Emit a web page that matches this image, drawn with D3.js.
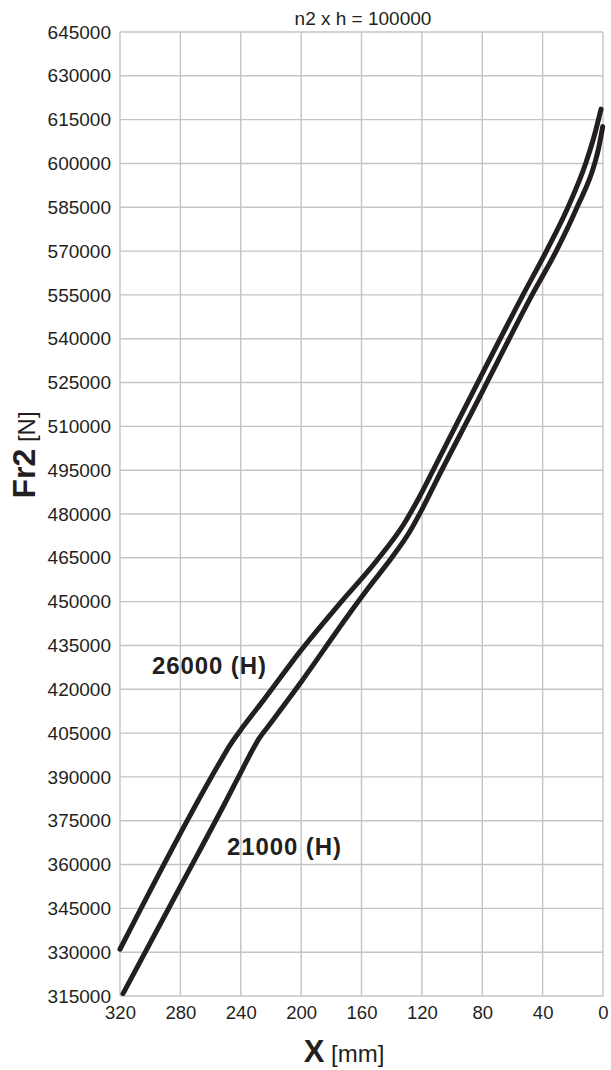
<!DOCTYPE html>
<html>
<head>
<meta charset="utf-8">
<script src="https://cdn.jsdelivr.net/npm/d3@7"></script>
<style>
  html, body { margin: 0; padding: 0; background: #fff; }
  svg { display: block; }
  text { font-family: "Liberation Sans", Arial, sans-serif; fill: #231f20; }
</style>
</head>
<body>
<svg id="chart" width="611" height="1070"></svg>
<script>
// ---- data ----
const title = "n2 x h = 100000";
const xTicks = [320, 280, 240, 200, 160, 120, 80, 40, 0];
const yTicks = [315000, 330000, 345000, 360000, 375000, 390000, 405000, 420000, 435000, 450000, 465000,
                480000, 495000, 510000, 525000, 540000, 555000, 570000, 585000, 600000, 615000, 630000, 645000];

// 26000 (H)
const upperX = [320, 255, 247, 238, 225, 200, 175, 150, 132, 122, 112, 83, 53, 37.5, 23.2, 11.5, 5.5, 1.3];
const upperY = [331000, 394000, 401000, 407500, 416200, 433400, 449000, 464000, 476500, 485500, 495500,
                525000, 555000, 570000, 585000, 600000, 610000, 618600];
// 21000 (H)
const lowerX = [318, 280, 250, 240, 234, 228, 220, 210, 200, 185, 170, 155, 140, 128, 120, 110,
                80, 70, 47, 31, 17.2, 5.5, 3, 0.2];
const lowerY = [315800, 352500, 381500, 391500, 397500, 403000, 408500, 415500, 422500, 433500, 444500, 455000,
                465000, 474000, 481500, 491800, 521800, 532000, 555000, 570000, 585000, 600000, 605000, 612600];

const seriesLabels = ["26000 (H)", "21000 (H)"];

// ---- layout ----
const svg = d3.select("#chart");
const L = 120, R = 603, T = 32, B = 996;

const x = d3.scaleLinear().domain([320, 0]).range([L, R]);
const y = d3.scaleLinear().domain([315000, 645000]).range([B, T]);

// grid
const grid = svg.append("g").attr("stroke", "#c4c4c6").attr("stroke-width", 1.4);
grid.selectAll("line.v").data(xTicks).enter().append("line")
  .attr("x1", d => x(d)).attr("x2", d => x(d)).attr("y1", T).attr("y2", B);
grid.selectAll("line.h").data(yTicks).enter().append("line")
  .attr("x1", L).attr("x2", R).attr("y1", d => y(d)).attr("y2", d => y(d));

// axes
const ax = svg.append("g").attr("transform", `translate(0,${B})`)
  .call(d3.axisBottom(x).tickValues(xTicks).tickSize(0).tickPadding(10).tickFormat(d3.format("d")));
ax.select(".domain").remove();
ax.selectAll("text").attr("font-size", 18.5).style("font-family", "'Liberation Sans', Arial, sans-serif").attr("fill", "#231f20");

const ay = svg.append("g").attr("transform", `translate(${L},0)`)
  .call(d3.axisLeft(y).tickValues(yTicks).tickSize(0).tickPadding(9).tickFormat(d3.format("d")));
ay.select(".domain").remove();
ay.selectAll("text").attr("font-size", 19).style("font-family", "'Liberation Sans', Arial, sans-serif").attr("fill", "#231f20");

// lines
const line = d3.line().x(d => x(d[0])).y(d => y(d[1])).curve(d3.curveMonotoneX);
const upper = upperX.map((v, i) => [v, upperY[i]]);
const lower = lowerX.map((v, i) => [v, lowerY[i]]);
[upper, lower].forEach(s => {
  svg.append("path").datum(s).attr("d", line)
    .attr("fill", "none").attr("stroke", "#231f20").attr("stroke-width", 5)
    .attr("stroke-linecap", "round").attr("stroke-linejoin", "round");
});

// series labels
svg.append("text").attr("x", 152).attr("y", 674).attr("font-size", 24).attr("letter-spacing", 0.9)
  .attr("font-weight", "bold").text(seriesLabels[0]);
svg.append("text").attr("x", 227).attr("y", 855).attr("font-size", 24).attr("letter-spacing", 0.9)
  .attr("font-weight", "bold").text(seriesLabels[1]);

// title
svg.append("text").attr("x", 363).attr("y", 25).attr("text-anchor", "middle").attr("font-size", 19).text(title);

// y axis title
const yt = svg.append("text").attr("transform", "translate(35,455) rotate(-90)").attr("text-anchor", "middle");
yt.append("tspan").attr("font-size", 32).attr("font-weight", "bold").text("Fr2");
yt.append("tspan").attr("font-size", 24).text(" [N]");

// x axis title
const xt = svg.append("text").attr("x", 344).attr("y", 1062).attr("text-anchor", "middle");
xt.append("tspan").attr("font-size", 31).attr("font-weight", "bold").text("X");
xt.append("tspan").attr("font-size", 24).text(" [mm]");
</script>
</body>
</html>
